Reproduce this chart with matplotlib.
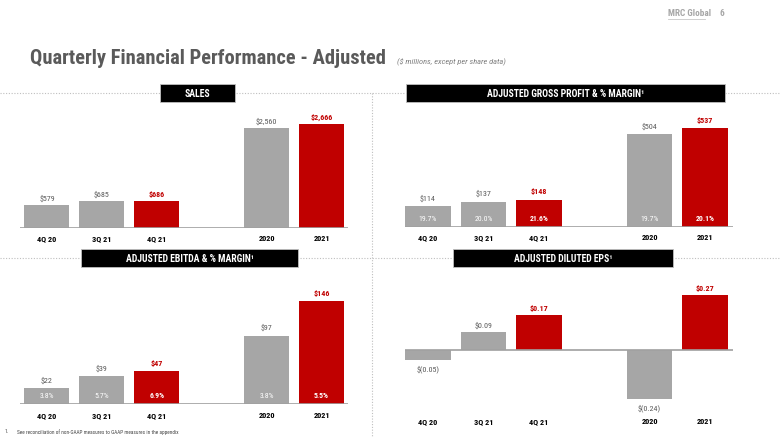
import matplotlib
matplotlib.use("Agg")
import os
import matplotlib.pyplot as plt
from matplotlib import font_manager
from matplotlib.font_manager import FontProperties
from matplotlib.patches import Rectangle
from matplotlib.lines import Line2D
import matplotlib.transforms as mtransforms

# ---------------- data ----------------
categories = ["4Q 20", "3Q 21", "4Q 21", "2020", "2021"]
sales = [579, 685, 686, 2560, 2666]
sales_labels = ["$579", "$685", "$686", "$2,560", "$2,666"]
gross_profit = [114, 137, 148, 504, 537]
gp_labels = ["$114", "$137", "$148", "$504", "$537"]
gp_margin = ["19.7%", "20.0%", "21.6%", "19.7%", "20.1%"]
ebitda = [22, 39, 47, 97, 146]
ebitda_labels = ["$22", "$39", "$47", "$97", "$146"]
ebitda_margin = ["3.8%", "5.7%", "6.9%", "3.8%", "5.5%"]
eps = [-0.05, 0.09, 0.17, -0.24, 0.27]
eps_labels = ["$(0.05)", "$0.09", "$0.17", "$(0.24)", "$0.27"]
highlight = [False, False, True, False, True]
positions = [0, 1, 2, 4, 5]

GREY = "#A6A6A6"
RED = "#C00000"
TXT_GREY = "#595959"

# ---------------- font selection (narrow font if available) ----------------
files = [f.fname for f in font_manager.fontManager.ttflist]


def pick(key):
    for p in files:
        if os.path.basename(p).lower().startswith(key):
            return p
    return None


narrow_sets = [
    ("liberationsansnarrow-regular", "liberationsansnarrow-bold.", "liberationsansnarrow-italic", 1.0),
    ("robotocondensed-regular", "robotocondensed-bold.", "robotocondensed-italic", 0.8),
    ("dejavusanscondensed.", "dejavusanscondensed-bold.", "dejavusanscondensed-oblique.", 0.74),
]
REG = BOLD = ITAL = None
SCALE = 1.0
for r, b, i, s in narrow_sets:
    rp, bp, ip = pick(r), pick(b), pick(i)
    if rp and bp:
        REG, BOLD, ITAL = rp, bp, (ip or rp)
        SCALE = s
        break
if REG is None:
    names = {f.name for f in font_manager.fontManager.ttflist}
    fam = "Liberation Sans" if "Liberation Sans" in names else "DejaVu Sans"
    REG = font_manager.findfont(FontProperties(family=fam))
    BOLD = font_manager.findfont(FontProperties(family=fam, weight="bold"))
    ITAL = font_manager.findfont(FontProperties(family=fam, style="italic"))
    SCALE = 0.68


def fp(size, kind="reg"):
    path = {"reg": REG, "bold": BOLD, "ital": ITAL}[kind]
    return FontProperties(fname=path, size=size * SCALE)


W, H = 780, 439
fig = plt.figure(figsize=(W / 100, H / 100), dpi=100)
fig.patch.set_facecolor("white")


def fx(px):
    return px / W


def fy(py):
    return 1 - py / H


def add_axes_px(left, right, top, bottom):
    return fig.add_axes([fx(left), fy(bottom), (right - left) / W, (bottom - top) / H])


def hline_dotted(y, x0, x1):
    fig.add_artist(Line2D([fx(x0), fx(x1)], [fy(y), fy(y)], color="#BFBFBF",
                          lw=0.8, ls=(0, (1, 1.5)), transform=fig.transFigure, zorder=0))


def header(x0, x1, y0, y1, text):
    fig.add_artist(Rectangle((fx(x0), fy(y1)), (x1 - x0) / W, (y1 - y0) / H,
                             facecolor="black", edgecolor="#BFBFBF", lw=0.6,
                             transform=fig.transFigure, zorder=3))
    fig.text(fx((x0 + x1) / 2), fy((y0 + y1) / 2), text, color="white",
             fontproperties=fp(8.8, "bold"), ha="center", va="center", zorder=4)


def panel(left, right, top, bottom, xlim, ylim, values, labels, margins, cat_y,
          label_gap=3.0):
    ax = add_axes_px(left, right, top, bottom)
    ax.set_xlim(*xlim)
    ax.set_ylim(*ylim)
    ax.axis("off")
    colors = [RED if h else GREY for h in highlight]
    ax.bar(positions, values, width=0.82, color=colors, zorder=2)
    ax.axhline(0, color="#A0A0A0", lw=1.2, zorder=3)
    for p, v, lab, h in zip(positions, values, labels, highlight):
        off = label_gap if v >= 0 else -label_gap
        ax.annotate(lab, (p, v), xytext=(0, off), textcoords="offset points",
                    ha="center", va="bottom" if v >= 0 else "top",
                    fontproperties=fp(7.2, "bold" if h else "reg"),
                    color=RED if h else TXT_GREY, annotation_clip=False)
    if margins is not None:
        for p, m, h in zip(positions, margins, highlight):
            ax.annotate(m, (p, 0), xytext=(0, 4.5), textcoords="offset points",
                        ha="center", va="bottom", fontproperties=fp(7.0, "bold" if h else "reg"),
                        color="white", annotation_clip=False)
    tr = mtransforms.blended_transform_factory(ax.transData, fig.transFigure)
    for p, c in zip(positions, categories):
        ax.text(p, fy(cat_y), c, transform=tr, ha="center", va="center",
                fontproperties=fp(7.4, "bold"), color="black")
    return ax


# ---------------- decorations ----------------
fig.text(fx(668), fy(14), "MRC Global", fontproperties=fp(8.3, "bold"), color="#A6A6A6",
         ha="left", va="center")
fig.add_artist(Line2D([fx(668), fx(705)], [fy(20), fy(20)], color="#C8C8C8", lw=0.6,
                      transform=fig.transFigure))
fig.text(fx(720), fy(14), "6", fontproperties=fp(8.3, "bold"), color="#A6A6A6",
         ha="left", va="center")

fig.text(fx(30), fy(58), "Quarterly Financial Performance - Adjusted",
         fontproperties=fp(18.5, "bold"), color="#5A5A5A", ha="left", va="center")
fig.text(fx(397), fy(62), "($ millions, except per share data)",
         fontproperties=fp(7.5, "ital"), color="#7F7F7F", ha="left", va="center")

hline_dotted(94, 0, 780)
hline_dotted(259, 0, 780)
fig.add_artist(Line2D([fx(372), fx(372)], [fy(94), fy(437)], color="#BFBFBF",
                      lw=0.8, ls=(0, (1, 1.5)), transform=fig.transFigure, zorder=0))

header(160, 235, 85, 103, "SALES")
header(406, 725, 85, 103, "ADJUSTED GROSS PROFIT & % MARGIN¹")
header(81, 298, 250, 268, "ADJUSTED EBITDA & % MARGIN¹")
header(453, 673, 250, 268, "ADJUSTED DILUTED EPS¹")

# ---------------- panels ----------------
panel(20, 348, 125, 229, (-0.49, 5.48), (0, 2666), sales, sales_labels, None, 239)
panel(405, 733, 129, 228, (-0.415, 5.505), (0, 537), gross_profit, gp_labels, gp_margin,
      238, label_gap=3.8)
panel(20, 348, 302, 405, (-0.49, 5.48), (0, 146), ebitda, ebitda_labels, ebitda_margin,
      416, label_gap=3.8)
panel(405, 733, 296, 400, (-0.415, 5.505), (-0.24, 0.27), eps, eps_labels, None, 422,
      label_gap=3.0)

fig.text(fx(5), fy(432), "1.", fontproperties=fp(4.7), color="#404040", ha="left", va="center")
fig.text(fx(17), fy(432), "See reconciliation of non-GAAP measures to GAAP measures in the appendix",
         fontproperties=fp(4.7), color="#404040", ha="left", va="center")

fig.savefig("out.png", dpi=100, facecolor="white")
